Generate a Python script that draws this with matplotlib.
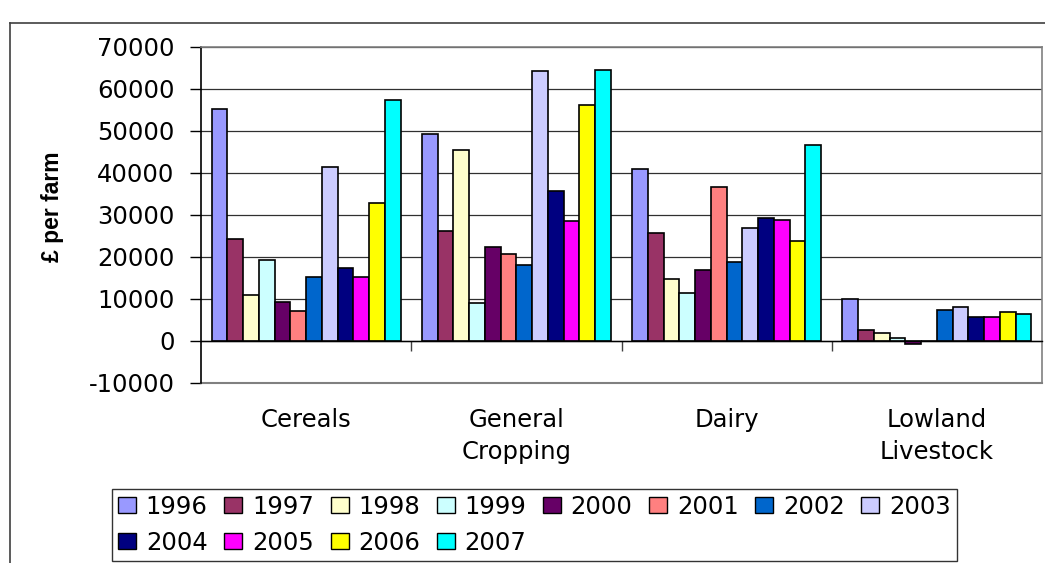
import matplotlib
matplotlib.use("Agg")
import matplotlib.pyplot as plt
from matplotlib.lines import Line2D
from matplotlib.patches import Patch
from matplotlib.transforms import blended_transform_factory
import numpy as np

# ---------------- data ----------------
categories = ["Cereals", "General\nCropping", "Dairy", "Lowland\nLivestock"]
years = ["1996", "1997", "1998", "1999", "2000", "2001",
         "2002", "2003", "2004", "2005", "2006", "2007"]
cereals = [55200, 24400, 11000, 19400, 9200, 7200, 15300, 41500, 17300, 15300, 32800, 57400]
general_cropping = [49400, 26200, 45400, 9000, 22500, 20800, 18000, 64200, 35600, 28500, 56100, 64500]
dairy = [41000, 25800, 14700, 11400, 16800, 36700, 18800, 26900, 29200, 28800, 23800, 46700]
lowland_livestock = [10100, 2600, 2000, 600, -700, 0, 7400, 8000, 5700, 5700, 7000, 6400]
y_ticks = [-10000, 0, 10000, 20000, 30000, 40000, 50000, 60000, 70000]
y_label = "£ per farm"

colors = ["#9999FF", "#993366", "#FFFFCC", "#CCFFFF", "#660066", "#FF8080",
          "#0066CC", "#CCCCFF", "#000080", "#FF00FF", "#FFFF00", "#00FFFF"]

# ---------------- figure ----------------
W, H = 1045, 563
fig = plt.figure(figsize=(W / 100, H / 100), dpi=100)
FONT = "DejaVu Sans"
FS = 17.5

ax = fig.add_axes([201 / W, 1 - 383 / H, (1042 - 201) / W, (383 - 47) / H])

values = np.array([cereals, general_cropping, dairy, lowland_livestock])  # (cat, year)
ncat, nser = values.shape
span = 0.898
bw = span / nser
xc = np.arange(ncat)
for j in range(nser):
    ax.bar(xc - span / 2 + bw * (j + 0.5), values[:, j], width=bw,
           color=colors[j], edgecolor="black", linewidth=1.2, zorder=3,
           label=years[j])

ax.set_xlim(-0.5, ncat - 0.5)
ax.set_ylim(y_ticks[0], y_ticks[-1])
ax.set_yticks(y_ticks)
ax.set_yticklabels([str(v) for v in y_ticks], fontsize=FS, family=FONT)
ax.tick_params(axis="y", length=8, width=1, pad=11, direction="out", color="black")

ax.set_xticks([0.5, 1.5, 2.5])
ax.set_xticklabels([])
ax.tick_params(axis="x", length=7, width=1, direction="out", color="#404040")

ax.yaxis.grid(True, color="#303030", linewidth=0.9)
ax.set_axisbelow(True)

ax.spines["bottom"].set_position(("data", 0))
ax.spines["bottom"].set_color("black")
ax.spines["bottom"].set_linewidth(1.0)
ax.spines["bottom"].set_zorder(4)
ax.spines["left"].set_color("black")
ax.spines["left"].set_linewidth(1.2)
for s in ("top", "right"):
    ax.spines[s].set_color("#808080")
    ax.spines[s].set_linewidth(1.2)
ax.axhline(y_ticks[0], color="#808080", linewidth=1.5, clip_on=False, zorder=2)

# category labels
tr = blended_transform_factory(ax.transData, fig.transFigure)
for i, c in enumerate(categories):
    ax.text(i, 1 - 408 / H, c, transform=tr, ha="center", va="top",
            multialignment="center", fontsize=FS, family=FONT, linespacing=1.4)

# y label
fig.text(52 / W, 1 - 207 / H, y_label, rotation=90, ha="center", va="center",
         fontsize=16.5, fontweight="bold", family="Liberation Sans")

# legend: row-major order (1996..2003 on first row, 2004..2007 on second)
order = [0, 8, 1, 9, 2, 10, 3, 11, 4, 5, 6, 7]
handles = [Patch(facecolor=colors[j], edgecolor="black", linewidth=1.0, label=years[j])
           for j in order]
leg = fig.legend(handles=handles, ncol=8, loc="lower left",
                 bbox_to_anchor=(112 / W, 1 - 561 / H, (957 - 112) / W, (561 - 490) / H),
                 bbox_transform=fig.transFigure, mode="expand", borderaxespad=0,
                 prop={"family": FONT, "size": FS}, handlelength=0.74, handleheight=0.62,
                 handletextpad=0.4, columnspacing=0.4, labelspacing=0.5,
                 borderpad=0.25, fancybox=False, frameon=True)
leg.get_frame().set_edgecolor("black")
leg.get_frame().set_linewidth(1.0)

# outer chart frame
fig.add_artist(Line2D([10 / W, 10 / W], [-0.05, 1 - 23 / H], color="#404040", lw=1.2,
                      transform=fig.transFigure))
fig.add_artist(Line2D([10 / W, 1.05], [1 - 23 / H, 1 - 23 / H], color="#404040", lw=1.2,
                      transform=fig.transFigure))

fig.savefig("out.png", dpi=100, facecolor="white")
